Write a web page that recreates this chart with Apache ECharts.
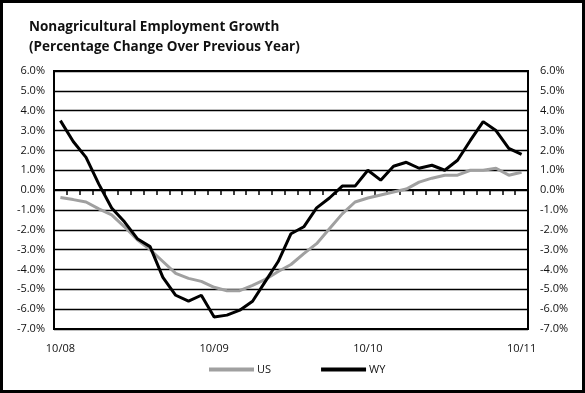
<!DOCTYPE html>
<html>
<head>
<meta charset="utf-8">
<script src="https://cdn.jsdelivr.net/npm/echarts@6/dist/echarts.min.js"></script>
<style>
html,body{margin:0;padding:0;background:#fff;}
#c{width:585px;height:393px;}
</style>
</head>
<body>
<div id="c"></div>
<script>
const categories = ["10/08","11/08","12/08","1/09","2/09","3/09","4/09","5/09","6/09","7/09","8/09","9/09",
  "10/09","11/09","12/09","1/10","2/10","3/10","4/10","5/10","6/10","7/10","8/10","9/10",
  "10/10","11/10","12/10","1/11","2/11","3/11","4/11","5/11","6/11","7/11","8/11","9/11","10/11"];
const usValues = [-0.37,-0.48,-0.6,-0.95,-1.25,-1.85,-2.5,-3.0,-3.6,-4.2,-4.45,-4.6,
  -4.9,-5.07,-5.07,-4.8,-4.5,-4.1,-3.75,-3.2,-2.7,-1.95,-1.2,-0.6,
  -0.4,-0.25,-0.1,0.05,0.4,0.6,0.75,0.75,1.0,1.0,1.1,0.75,0.9];
const wyValues = [3.5,2.45,1.65,0.3,-0.9,-1.6,-2.45,-2.85,-4.4,-5.3,-5.6,-5.3,
  -6.4,-6.3,-6.05,-5.6,-4.6,-3.6,-2.2,-1.85,-0.9,-0.4,0.2,0.2,
  1.0,0.5,1.2,1.4,1.1,1.25,1.0,1.5,2.5,3.45,3.0,2.1,1.8];
const yMin = -7, yMax = 6, yStep = 1;
const titleLines = ["Nonagricultural Employment Growth", "(Percentage Change Over Previous Year)"];

const chart = echarts.init(document.getElementById('c'));
const fontFam = '"Open Sans", "Noto Sans", sans-serif';
const yLabel = v => v.toFixed(1) + '%';
const labelIdx = (i) => i % 12 === 0;

chart.setOption({
  animation: false,
  backgroundColor: '#fff',
  title: {
    text: titleLines.join('\n'),
    left: 24, top: 12,
    textStyle: {fontFamily: fontFam, fontWeight: 'bold', fontSize: 13.5, color: '#111', lineHeight: 20}
  },
  graphic: [{
    type: 'rect', shape: {x: 1.5, y: 1.5, width: 582, height: 390},
    style: {fill: null, stroke: '#000', lineWidth: 3}, silent: true, z: 100
  }],
  legend: {
    bottom: 13, left: 204,
    itemWidth: 45, itemHeight: 4, itemGap: 50,
    icon: 'rect',
    textStyle: {fontFamily: fontFam, fontSize: 11, color: '#111', padding: [0,0,0,-2]},
    data: ['US', 'WY']
  },
  grid: {left: 54, right: 57, top: 71, bottom: 64, show: true, borderColor: '#000', borderWidth: 2, containLabel: false},
  xAxis: [{
    type: 'category', data: categories, boundaryGap: true,
    axisLine: {show: false, onZero: false},
    axisTick: {show: false},
    axisLabel: {interval: labelIdx, fontFamily: fontFam, fontSize: 11, color: '#111', margin: 14},
    splitLine: {show: false}
  }, {
    type: 'category', data: categories, boundaryGap: true, position: 'bottom',
    axisLine: {show: true, onZero: true, lineStyle: {color: '#000', width: 2}},
    axisTick: {show: true, interval: 0, inside: false, length: 5, lineStyle: {color: '#000', width: 1.5}},
    axisLabel: {show: false},
    splitLine: {show: false}
  }],
  yAxis: [{
    type: 'value', min: yMin, max: yMax, interval: yStep,
    axisLine: {show: false}, axisTick: {show: false},
    axisLabel: {formatter: yLabel, fontFamily: fontFam, fontSize: 11, color: '#111', margin: 9},
    splitLine: {show: true, lineStyle: {color: '#000', width: 1.3}}
  }, {
    type: 'value', min: yMin, max: yMax, interval: yStep, position: 'right',
    axisLine: {show: false}, axisTick: {show: false},
    axisLabel: {formatter: yLabel, fontFamily: fontFam, fontSize: 11, color: '#111', margin: 12},
    splitLine: {show: false}
  }],
  series: [{
    name: 'US', type: 'line', data: usValues, xAxisIndex: 0, yAxisIndex: 0,
    symbol: 'none', lineStyle: {color: '#a0a0a0', width: 3}, itemStyle: {color: '#a0a0a0'}, z: 3
  }, {
    name: 'WY', type: 'line', data: wyValues, xAxisIndex: 0, yAxisIndex: 0,
    symbol: 'none', lineStyle: {color: '#000', width: 3}, itemStyle: {color: '#000'}, z: 4
  }]
});
</script>
</body>
</html>
